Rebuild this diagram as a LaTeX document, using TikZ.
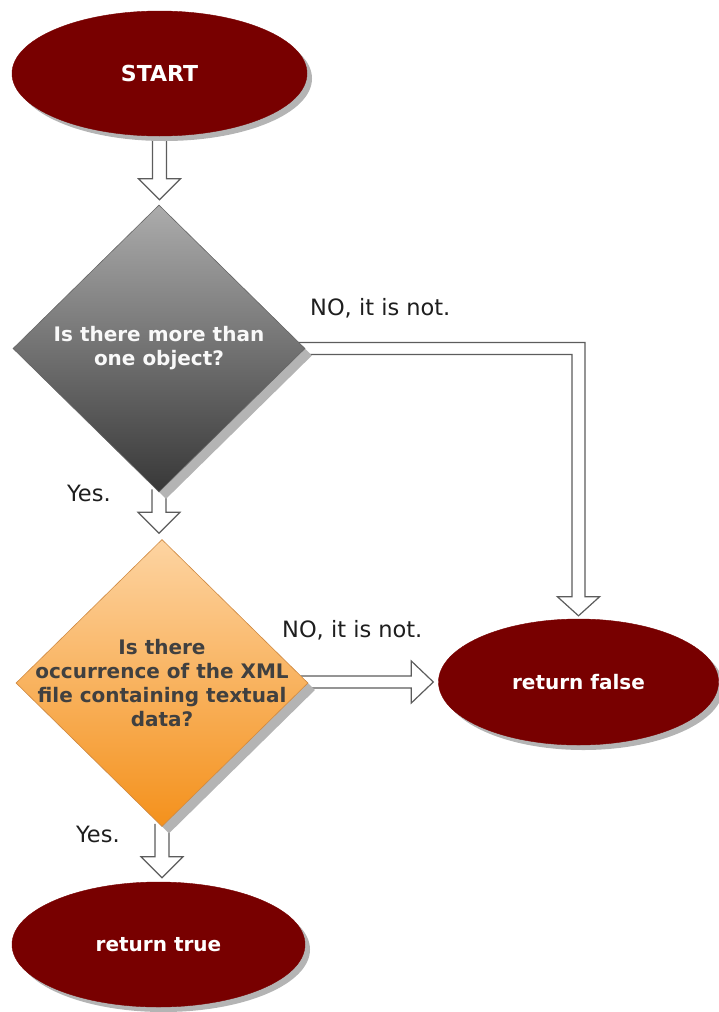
\documentclass[tikz,border=0pt]{standalone}
\usepackage{fontspec}
\setmainfont{DejaVu Sans}
\usetikzlibrary{shapes.geometric,shadows,calc,backgrounds}
\definecolor{maroon}{HTML}{780000}
\definecolor{shadowgray}{HTML}{B4B4B4}
\definecolor{gtop}{HTML}{ACACAC}
\definecolor{gbot}{HTML}{383838}
\definecolor{otop}{HTML}{FDD4A2}
\definecolor{obot}{HTML}{F4911C}
\definecolor{oborder}{HTML}{D08A42}
\definecolor{arrgray}{HTML}{5C5C5C}
\definecolor{dtextgray}{HTML}{404040}
\definecolor{lblcol}{HTML}{1E1E1E}
\tikzset{
  term/.style={ellipse, fill=maroon, draw=maroon, inner sep=0pt, text=white,
    font=\bfseries\fontsize{20}{24}\selectfont,
    drop shadow={shadow xshift=5pt, shadow yshift=-5pt, fill=shadowgray, opacity=1}},
  decision/.style={diamond, inner sep=0pt, minimum width=292pt, minimum height=287pt,
    drop shadow={shadow xshift=7pt, shadow yshift=-7pt, fill=shadowgray, opacity=1}},
  dtext/.style={align=center, inner sep=0pt, font=\bfseries\fontsize{20}{24}\selectfont},
  lbl/.style={inner sep=0pt, text=lblcol, font=\fontsize{22.5}{26}\selectfont},
  blockarr/.style={draw=arrgray, line width=1.2pt, fill=white, line join=miter}
}
\newcommand{\vblock}[3]{%
  \draw[blockarr] ($(#1)+(-7,-3)$) -- ($(#1 |- #2)+(-7,-#3-21)$) -- ($(#1 |- #2)+(-21,-#3-21)$)
   -- ($(#1 |- #2)+(0,-#3)$) -- ($(#1 |- #2)+(21,-#3-21)$) -- ($(#1 |- #2)+(7,-#3-21)$) -- ($(#1)+(7,-3)$);}
\begin{document}
\begin{tikzpicture}[x=1pt,y=-1pt]
\useasboundingbox (0,0) rectangle (718,1012);
% nodes
\node[term, minimum width=295pt, minimum height=125pt, font=\bfseries\fontsize{22}{26}\selectfont] (start) at (159.5,73.5) {START};
\node[decision, shading=axis, top color=gtop, bottom color=gbot, draw=gray!80!black, line width=0.6pt] (d1) at (159,348.5) {};
\node[dtext, text=white!95!gray] (d1t) at (d1.center) {Is there more than\\one object?};
\node[decision, shading=axis, top color=otop, bottom color=obot, draw=oborder, line width=0.6pt] (d2) at (162,683) {};
\node[dtext, text=dtextgray] (d2t) at (d2.center) {Is there\\occurrence of the XML\\file containing textual\\data?};
\node[term, minimum width=280pt, minimum height=126pt] (rfalse) at (578.5,682) {return false};
\node[term, minimum width=293pt, minimum height=125pt] (rtrue) at (158.5,944.5) {return true};
% labels
\node[lbl, anchor=west] (no1) at (310,308) {NO, it is not.};
\node[lbl, anchor=west] (yes1) at (67,493) {Yes.};
\node[lbl, anchor=west] (no2) at (282,630) {NO, it is not.};
\node[lbl, anchor=west] (yes2) at (76,834) {Yes.};
% connectors
\begin{scope}[on background layer]
\vblock{start.south}{d1.north}{5}
\vblock{d1.south}{d2.north}{6}
\vblock{d2.south}{rtrue.north}{4}
\draw[blockarr] ($(d1.east)+(-8,-6)$) -- ($(d1.east -| rfalse.north)+(6.5,-6)$)
  -- ($(rfalse.north)+(6.5,-22)$) -- ($(rfalse.north)+(21,-22)$) -- ($(rfalse.north)+(0,-3)$)
  -- ($(rfalse.north)+(-21,-22)$) -- ($(rfalse.north)+(-6.5,-22)$)
  -- ($(d1.east -| rfalse.north)+(-6.5,6)$) -- ($(d1.east)+(-8,6)$);
\draw[blockarr] ($(d2.east |- rfalse.west)+(-8,-6)$) -- ($(rfalse.west)+(-27,-6)$)
  -- ($(rfalse.west)+(-27,-21)$) -- ($(rfalse.west)+(-5,0)$) -- ($(rfalse.west)+(-27,21)$)
  -- ($(rfalse.west)+(-27,6)$) -- ($(d2.east |- rfalse.west)+(-8,6)$);
\end{scope}
\end{tikzpicture}
\end{document}
